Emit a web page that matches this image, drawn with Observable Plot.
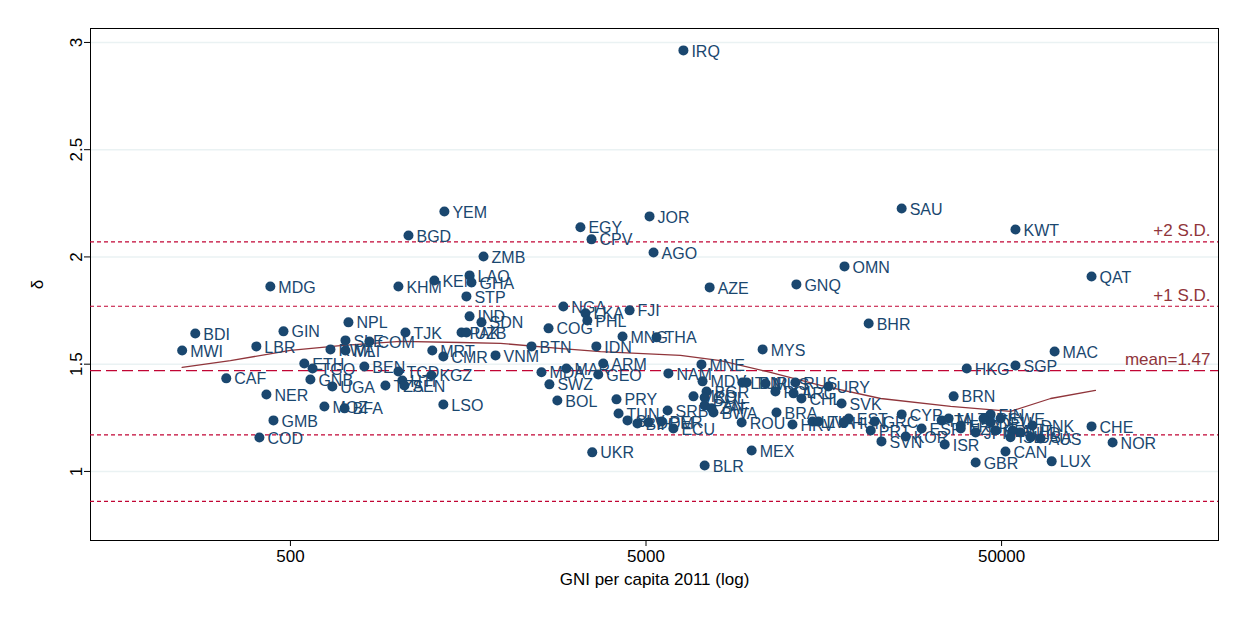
<!DOCTYPE html>
<html>
<head>
<meta charset="utf-8">
<script src="https://cdn.jsdelivr.net/npm/d3@7"></script>
<script src="https://cdn.jsdelivr.net/npm/@observablehq/plot@0.6"></script>
<style>
  body { margin: 0; background: #eaf2f3; }
  #chart { margin: 0; }
  #chart svg { background: white; }
</style>
</head>
<body>
<div id="chart"></div>
<script>
// country codes, GNI per capita 2011 and delta
const iso = ["MWI","BDI","CAF","MDG","LBR","NER","COD","GMB","GIN","ETH","TGO","GNB","NPL","SLE","COM","RWA","MLI","UGA","BEN","MOZ","BFA","TZA","TCD","HTI","SEN","KHM","KEN","LAO","GHA","STP","ZMB","BGD","YEM","TJK","MRT","CMR","KGZ","LSO","PAK","UZB","IND","SDN","VNM","BTN","NGA","LKA","PHL","COG","IDN","MNG","THA","FJI","EGY","CPV","JOR","AGO","AZE","GNQ","OMN","IRQ","MDA","MAR","SWZ","GEO","ARM","BOL","PRY","UKR","TUN","SLV","BIH","DOM","PER","ECU","NAM","SRB","MNE","MDV","BGR","COL","PAN","MKD","BWA","ZAF","BLR","MEX","ROU","BRA","HRV","MUS","LBN","TUR","RUS","POL","CHL","URY","ARG","SVK","LTU","LVA","EST","HUN","SAU","BHR","MYS","KWT","QAT","MAC","SGP","HKG","BRN","CYP","ITA","GRC","ESP","PRT","SVN","KOR","ISR","GBR","CAN","LUX","NOR","CHE","DNK","AUS","NLD","FIN","SWE","AUT","DEU","FRA","BEL","JPN","IRL","NZL","USA","ISL","MLT"];
const gni = [248,270,330,439,401,428,409,448,478,547,577,569,728,714,834,648,714,656,807,623,710,925,1006,1032,1046,1006,1270,1595,1615,1563,1746,1074,1355,1053,1253,1346,1246,1346,1514,1563,1595,1723,1887,2382,2928,3380,3420,2660,3625,4295,5354,4496,3270,3513,5116,5250,7550,13240,18080,6370,2541,2986,2675,3670,3790,2816,4130,3530,4186,4435,4731,5080,5530,5970,5780,5750,7160,7210,7400,7310,7310,6800,7740,7640,7310,9910,9290,11640,12910,10840,9330,9600,13150,11560,13680,16300,13000,17740,14690,15280,18580,17980,26180,21140,10640,54700,89530,70480,54700,39900,36650,26180,33900,21980,29790,21430,22970,26870,34590,42270,51280,69170,102600,89530,61060,64370,56490,46560,49660,53690,46560,38370,48080,42270,44480,38370,60330,52950,35480];
const delta = [1.564,1.643,1.434,1.862,1.583,1.359,1.158,1.238,1.653,1.503,1.480,1.429,1.695,1.611,1.606,1.569,1.564,1.396,1.489,1.303,1.294,1.401,1.466,1.424,1.401,1.862,1.890,1.914,1.881,1.816,2.002,2.100,2.212,1.648,1.564,1.536,1.448,1.312,1.648,1.648,1.723,1.695,1.541,1.583,1.769,1.737,1.704,1.667,1.583,1.629,1.625,1.751,2.138,2.082,2.189,2.021,1.858,1.872,1.956,2.963,1.462,1.480,1.406,1.452,1.503,1.331,1.336,1.089,1.270,1.238,1.224,1.228,1.233,1.200,1.457,1.284,1.499,1.420,1.373,1.345,1.308,1.350,1.275,1.294,1.028,1.098,1.228,1.275,1.219,1.410,1.415,1.415,1.415,1.373,1.340,1.396,1.364,1.317,1.233,1.233,1.247,1.228,2.226,1.690,1.569,2.128,1.909,1.559,1.494,1.480,1.350,1.266,1.238,1.233,1.200,1.191,1.140,1.163,1.126,1.042,1.093,1.047,1.135,1.210,1.214,1.154,1.182,1.266,1.247,1.191,1.228,1.214,1.191,1.182,1.247,1.200,1.159,1.159,1.247];

// lowess smooth
const smoothX = [248,339,500,691,1019,1503,1949,2900,3723,6250,8100,11190,15480,22850,35950,52950,68700,91800];
const smoothY = [1.485,1.517,1.564,1.587,1.606,1.601,1.597,1.573,1.559,1.541,1.517,1.462,1.401,1.340,1.303,1.280,1.340,1.378];

// reference lines
const refVals = [2.07, 1.77, 1.47, 1.17, 0.86];
const refLabels = ["+2 S.D.", "+1 S.D.", "mean=1.47", "", ""];

const xTicks = [500, 5000, 50000];
const yTicks = [1, 1.5, 2, 2.5, 3];

const points = iso.map((c, i) => ({c, x: gni[i], y: delta[i]}));
const smooth = smoothX.map((x, i) => ({x, y: smoothY[i]}));
const refs = refVals.map((v, i) => ({v, label: refLabels[i], mean: i === 2}));

const blue = "#1a476f";
const red = "#c10534";
const darkred = "#90353b";

const chart = Plot.plot({
  width: 1236,
  height: 620,
  marginLeft: 90,
  marginRight: 18,
  marginTop: 28,
  marginBottom: 80,
  style: {fontFamily: "Liberation Sans, Arial, sans-serif", fontSize: "16px", color: "#000"},
  x: {type: "log", domain: [137, 203700]},
  y: {domain: [0.678, 3.065]},
  marks: [
    Plot.ruleY(yTicks, {stroke: "#eaf2f3", strokeWidth: 1.5}),
    Plot.frame({stroke: "#000", strokeWidth: 1}),
    Plot.axisX(xTicks, {tickFormat: d3.format("d"), tickSize: 6, fontSize: 17, label: "GNI per capita 2011 (log)", labelAnchor: "center", labelOffset: 44, labelArrow: "none"}),
    Plot.axisY(yTicks, {tickFormat: d3.format("~g"), tickSize: 6, tickRotate: -90, fontSize: 17, label: "δ", labelAnchor: "center", labelOffset: 60, labelArrow: "none"}),
    Plot.ruleY(refs.filter(d => !d.mean), {y: "v", stroke: red, strokeWidth: 1.2, strokeDasharray: "4,3"}),
    Plot.ruleY(refs.filter(d => d.mean), {y: "v", stroke: red, strokeWidth: 1.4, strokeDasharray: "11,5"}),
    Plot.text(refs, {y: "v", x: 203700, text: "label", textAnchor: "end", dx: -8, dy: -11, fill: darkred, fontSize: 17}),
    Plot.line(smooth, {x: "x", y: "y", stroke: darkred, strokeWidth: 1.3}),
    Plot.dot(points, {x: "x", y: "y", r: 5, fill: blue, stroke: "none"}),
    Plot.text(points, {x: "x", y: "y", text: "c", textAnchor: "start", dx: 8, dy: 1, fill: blue, fontSize: 16})
  ]
});

d3.select("#chart").append(() => chart);
</script>
</body>
</html>
